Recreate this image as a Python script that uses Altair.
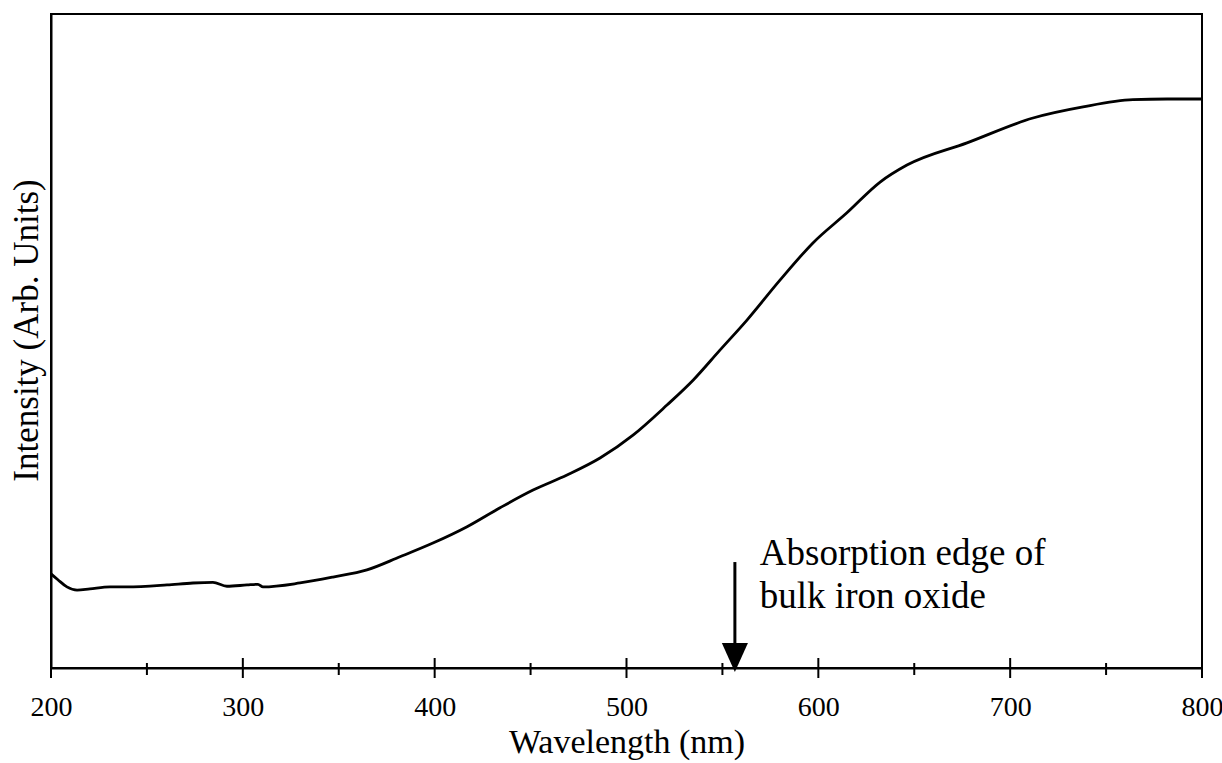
import altair as alt
import pandas as pd

# ---- data ----
wavelength = [200, 203.6, 208.3, 213.6, 220.3, 230.8, 239.6, 260.5, 274, 284.4,
              291.7, 302.2, 307.9, 310.5, 329.8, 347, 364.7, 381.9, 399.1, 416.9,
              434.1, 451.3, 469, 486.2, 503.4, 521.1, 534.7, 548.7, 562.8, 580,
              597.2, 614.9, 632.2, 646.2, 677.5, 711.9, 738, 764, 781.8, 800]
intensity = [14.4, 13.5, 12.4, 11.9, 12.1, 12.4, 12.4, 12.7, 13.0, 13.1,
             12.5, 12.7, 12.8, 12.4, 13.0, 13.9, 15.0, 17.0, 19.1, 21.6,
             24.5, 27.2, 29.5, 32.1, 35.6, 40.2, 44.0, 48.6, 53.2, 59.3,
             65.0, 69.6, 74.3, 76.9, 80.3, 84.1, 85.8, 86.9, 87.0, 87.0]

major_ticks = [200, 300, 400, 500, 600, 700, 800]
minor_ticks = [250, 350, 450, 550, 650, 750]

arrow_x = [556.5]
arrow_top = [16.2]
arrow_base = [3.8]
arrow_head = [1.6]

note_lines = ["Absorption edge of", "bulk iron oxide"]
note_x = [569.5]
note_y = [15.7]

FONT = "Liberation Serif"
W, H = 1151, 654

curve_df = pd.DataFrame({"wl": wavelength, "inten": intensity})
major_df = pd.DataFrame({"t": major_ticks})
minor_df = pd.DataFrame({"t": minor_ticks})
arrow_df = pd.DataFrame({"x": arrow_x, "y1": arrow_top, "y2": arrow_base, "yh": arrow_head})
note_df = pd.DataFrame({"label": ["\n".join(note_lines)], "x": note_x, "y": note_y})

xscale = alt.Scale(domain=[200, 800], nice=False, zero=False)
yscale = alt.Scale(domain=[0, 100], nice=False)

xaxis = alt.Axis(values=major_ticks, format="d", ticks=False, grid=False,
                 domainColor="black", domainWidth=2,
                 labelFont=FONT, labelFontSize=28, labelColor="black",
                 labelPadding=25, labelFlush=False,
                 title="Wavelength (nm)", titleFont=FONT, titleFontSize=34,
                 titleFontWeight="normal", titleColor="black", titlePadding=4)
yaxis = alt.Axis(ticks=False, labels=False, grid=False,
                 domainColor="black", domainWidth=2,
                 title="Intensity (Arb. Units)", titleFont=FONT, titleFontSize=35,
                 titleFontWeight="normal", titleColor="black", titlePadding=7,
                 titleY=316)

curve = alt.Chart(curve_df).mark_line(color="black", strokeWidth=2.8,
                                      interpolate="monotone").encode(
    x=alt.X("wl:Q", scale=xscale, axis=xaxis),
    y=alt.Y("inten:Q", scale=yscale, axis=yaxis),
)

major = alt.Chart(major_df).mark_rule(color="black", strokeWidth=2).encode(
    x=alt.X("t:Q", scale=xscale),
    y=alt.value(H - 10), y2=alt.value(H + 10),
)
minor = alt.Chart(minor_df).mark_rule(color="black", strokeWidth=2).encode(
    x=alt.X("t:Q", scale=xscale),
    y=alt.value(H - 5), y2=alt.value(H + 7),
)

shaft = alt.Chart(arrow_df).mark_rule(color="black", strokeWidth=3).encode(
    x=alt.X("x:Q", scale=xscale),
    y=alt.Y("y1:Q", scale=yscale),
    y2="y2:Q",
)
head = alt.Chart(arrow_df).mark_point(
    shape="M-0.9,-1 L0.9,-1 L0,1 Z", filled=True, color="black",
    size=841, opacity=1).encode(
    x=alt.X("x:Q", scale=xscale),
    y=alt.Y("yh:Q", scale=yscale),
)

note = alt.Chart(note_df).mark_text(align="left", baseline="alphabetic",
                                    font=FONT, fontSize=37, lineHeight=43,
                                    lineBreak="\n", color="black").encode(
    x=alt.X("x:Q", scale=xscale),
    y=alt.Y("y:Q", scale=yscale),
    text="label:N",
)

chart = alt.layer(curve, major, minor, shaft, head, note).properties(
    width=W, height=H,
    autosize=alt.AutoSizeParams(type="none"),
    padding={"left": 51, "top": 14, "right": 20, "bottom": 95},
    background="white",
).configure_view(stroke="black", strokeWidth=2)

chart.save("out.html", embed_options={"renderer": "svg", "actions": False})
